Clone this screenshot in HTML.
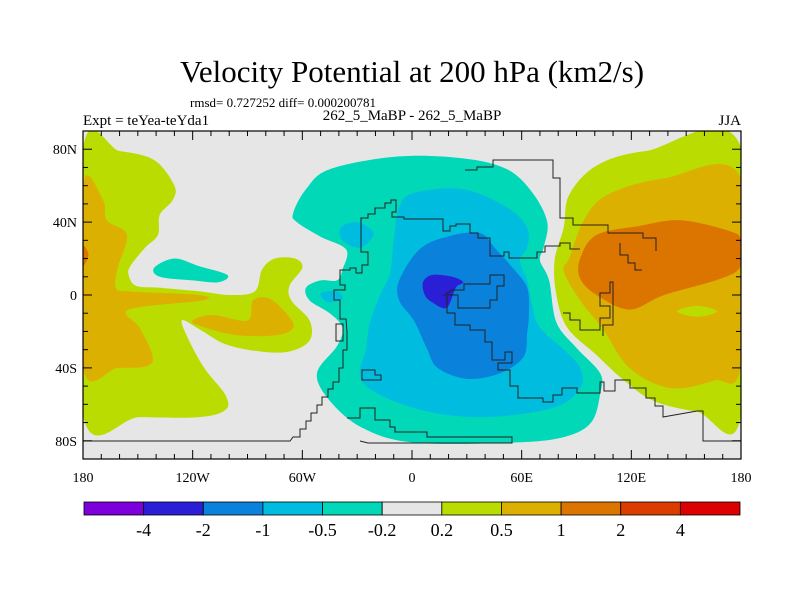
<!DOCTYPE html>
<html><head><meta charset="utf-8">
<style>
html,body{margin:0;padding:0;background:#fff;}
svg{display:block;font-family:"Liberation Serif",serif;}
</style></head>
<body>
<svg id="chart" width="800" height="600" viewBox="0 0 800 600" xmlns="http://www.w3.org/2000/svg">
<text x="412" y="82" text-anchor="middle" font-size="31">Velocity Potential at 200 hPa (km2/s)</text>
<text x="190" y="107" font-size="13">rmsd= 0.727252 diff= 0.000200781</text>
<text x="412" y="120" text-anchor="middle" font-size="15">262_5_MaBP - 262_5_MaBP</text>
<text x="83" y="125" font-size="15">Expt = teYea-teYda1</text>
<text x="741" y="125" text-anchor="end" font-size="15">JJA</text>
<g id="plot"></g>
<g id="cbar"></g>
</svg>
<script>
// colour levels
const levels = ["-4","-2","-1","-0.5","-0.2","0.2","0.5","1","2","4"];
const colors = ["#7d00dc","#2a1fd6","#0a82dc","#00bde0","#00d8b8","#e6e6e6","#badc00","#dcb000","#dc7400","#dc3c00","#dc0000"];
const latTicks = [80,40,0,-40,-80];
const latLabels = ["80N","40N","0","40S","80S"];
const lonTicks = [-180,-120,-60,0,60,120,180];
const lonLabels = ["180","120W","60W","0","60E","120E","180"];

// contour polygons [lon,lat] with colour index
const limeWest = [[-180,80],[-160,79],[-141,74],[-130,60],[-131,52],[-138,44],[-139,33],[-146,26],[-154,16],[-155,11],[-151,5],[-138,4],[-116,2],[-100,0],[-86,2],[-82,14],[-75,20],[-64,20],[-60,15],[-67,5],[-66,-3],[-56,-14],[-56,-25],[-67,-31],[-83,-31],[-102,-27],[-116,-19],[-126,-14],[-121,-27],[-113,-41],[-102,-55],[-102,-63],[-116,-67],[-149,-67],[-180,-66]];
const goldWest = [[-180,60],[-169,52],[-167,41],[-156,33],[-161,15],[-162,4],[-155,2],[-117,0],[-115,-3],[-155,-8],[-149,-18],[-142,-33],[-145,-39],[-161,-40],[-180,-40]];
const goldWest2 = [[-120,-14],[-109,-11],[-90,-14],[-87,-3],[-78,-2],[-68,-11],[-65,-18],[-74,-22],[-96,-22],[-116,-17]];
const orangeWest = [[-180,27],[-177,22],[-180,16]];
const tealWest = [[-141,15],[-130,20],[-117,16],[-101,11],[-106,7],[-120,8],[-138,10]];
const tealCentral = [[-65,45],[-58,58],[-45,69],[-8,76],[28,75],[52,69],[66,56],[74,40],[72,26],[70,19],[75,8],[79,-15],[90,-29],[103,-43],[103,-54],[98,-70],[83,-78],[55,-81],[1,-81],[-27,-73],[-45,-58],[-52,-43],[-41,-28],[-38,-18],[-45,-10],[-56,-3],[-58,4],[-50,8],[-41,8],[-38,14],[-36,25],[-50,32],[-63,40]];
const blueLight = [[1,56],[28,58],[52,48],[63,37],[63,26],[59,19],[63,8],[66,-7],[70,-18],[83,-30],[92,-40],[92,-51],[77,-62],[37,-67],[1,-62],[-27,-48],[-25,-29],[-23,-15],[-17,1],[-12,12],[-10,30],[-7,48]];
const blueLight2 = [[-39,37],[-30,40],[-21,34],[-28,26],[-38,30]];
const blueLight3 = [[-50,1],[-41,2],[-38,-2],[-46,-4]];
const blueMid = [[-7,8],[4,25],[19,32],[37,34],[46,25],[55,15],[63,4],[64,-10],[63,-21],[61,-34],[48,-43],[30,-46],[14,-40],[8,-29],[1,-14],[-7,-3]];
const blueDark = [[6,7],[11,11],[22,10],[28,7],[24,4],[19,-7],[11,-4],[7,0]];
const limeEast = [[86,55],[101,71],[128,79],[180,81],[180,-66],[156,-64],[132,-58],[115,-46],[101,-33],[85,-18],[79,0],[78,19],[83,37]];
const goldEast = [[86,20],[94,41],[107,55],[138,64],[180,64],[180,-38],[165,-47],[141,-51],[119,-40],[104,-18],[92,-3],[83,13]];
const orangeEast = [[92,20],[101,33],[125,38],[147,41],[174,35],[180,30],[180,16],[169,9],[138,0],[119,-8],[101,0],[92,9]];
const limeHole = [[145,-9],[156,-6],[167,-9],[156,-12]];
const contours = [
 [limeWest,6],[goldWest,7],[goldWest2,7],[orangeWest,8],[tealWest,4],
 [limeEast,6],[goldEast,7],[orangeEast,8],[limeHole,6],
 [tealCentral,4],[blueLight,3],[blueLight2,3],[blueLight3,3],[blueMid,2],[blueDark,1]
];

const NS="http://www.w3.org/2000/svg";
const X0=83,X1=741,Y0=131,Y1=459;
function xs(lon){return X0+(lon+180)/360*(X1-X0);}
function ys(lat){return Y0+(90-lat)/180*(Y1-Y0);}
function mk(tag,attrs,parent){const e=document.createElementNS(NS,tag);for(const k in attrs)e.setAttribute(k,attrs[k]);parent.appendChild(e);return e;}
function smooth(pts){
  const p=pts.map(d=>[xs(d[0]),ys(d[1])]);const n=p.length;let s=`M${p[0][0]},${p[0][1]}`;
  for(let i=0;i<n;i++){const a=p[(i-1+n)%n],b=p[i],c=p[(i+1)%n],d=p[(i+2)%n];
    s+=` C${b[0]+(c[0]-a[0])/6},${b[1]+(c[1]-a[1])/6} ${c[0]-(d[0]-b[0])/6},${c[1]-(d[1]-b[1])/6} ${c[0]},${c[1]}`;}
  return s+"Z";
}
const plot=document.getElementById('plot');
const defs=mk('defs',{},plot);
const cp=mk('clipPath',{id:'clip'},defs);mk('rect',{x:X0,y:Y0,width:X1-X0,height:Y1-Y0},cp);
const bg=mk('rect',{x:X0,y:Y0,width:X1-X0,height:Y1-Y0,fill:colors[5]},plot);


const cg=mk('g',{'clip-path':'url(#clip)'},plot);
contours.forEach((c,i)=>{
  const el=mk('path',{d:smooth(c[0]),fill:colors[c[1]]},cg);
  
  
});
// coastlines (rough)
const coasts=[
 "M83,441 L290,441 L293,437 L300,437 L300,429 L306,429 L306,421 L311,421 L311,413 L317,413 L317,405 L322,405 L322,397 L328,397 L328,389 L333,389 L333,382 L339,382 L339,368 L343,368 L343,350 L347,350 L347,332 L346,319 L340,319 L340,300 L334,300 L334,290 L345,290 L345,285 L340,285 L340,270 L350,270 L350,268 L356,268 L356,273 L362,273 L362,265 L368,265 L368,252 L361,252 L361,218 L368,218 L368,214 L375,214 L375,208 L385,208 L385,203 L391,203 L391,200 L396,200 L396,212 L392,212 L392,217 L404,217 L404,219 L443,219 L443,231 L450,231 L450,226 L456,226 L456,224 L470,224 L470,233 L478,233 L478,238 L490,238 L490,256 L504,256 L504,252 L509,252 L509,258 L537,258 L537,252 L545,252 L545,246 L560,246 L560,243 L570,243 L570,249 L580,249",
 "M443,296 L452,290 L464,290 L464,284 L490,284 L490,275 L504,275 L504,286 L497,286 L497,300 L490,300 L490,308 L458,308 L458,295 L447,295 L447,313 L455,313 L455,325 L470,325 L470,330 L485,330 L485,342 L492,342 L492,360 L505,360 L505,352 L512,352 L512,363 L498,363 L498,370 L510,370 L510,386 L518,386 L518,398 L543,398 L543,402 L553,402 L553,395 L562,395 L562,388 L577,388 L577,393 L600,393 L600,382 L604,382 L604,391 L615,391 L615,380 L630,380 L630,388 L646,388 L646,398 L655,398 L655,406 L663,406 L663,417 L697,411 L703,411 L703,441 L741,441",
 "M465,170 L477,170 L477,167 L493,167 L493,160 L553,160 L553,178 L560,178 L560,218 L573,218 L573,225 L608,225 L608,233 L643,233 L643,238 L656,238 L656,251",
 "M563,313 L570,313 L570,320 L580,320 L580,330 L600,330 L600,318 L610,318 L610,306 L600,306 L600,293 L610,293 L610,282 L613,282 L613,325 L603,325 L603,336",
 "M620,243 L620,255 L628,255 L628,263 L635,263 L635,270 L642,270",
 "M362,370 L375,370 L375,375 L381,375 L381,380 L362,380 Z",
 "M336,324 L343,324 L343,341 L336,341 Z",
 "M360,441 L368,443 L512,443 L512,437 L427,437 L427,432 L395,432 L395,427 L390,427 L390,420 L375,420 L375,408 L360,408 L360,418 L347,418"
];
coasts.forEach((d,i)=>{
  const el=mk('path',{d:d,fill:'none',stroke:'#222','stroke-width':1},cg);
  
  
});
const frame=mk('rect',{x:X0,y:Y0,width:X1-X0,height:Y1-Y0,fill:'none',stroke:'#000','stroke-width':1.2},plot);


// ticks
for(let lon=-180;lon<=180;lon+=10){const x=xs(lon);const L=(lon%60===0)?9:5;
  mk('line',{x1:x,y1:Y0,x2:x,y2:Y0+L,stroke:'#000'},plot);mk('line',{x1:x,y1:Y1,x2:x,y2:Y1-L,stroke:'#000'},plot);}
for(let lat=-90;lat<=90;lat+=10){const y=ys(lat);const L=(lat%40===0)?9:5;
  mk('line',{x1:X0,y1:y,x2:X0+L,y2:y,stroke:'#000'},plot);mk('line',{x1:X1,y1:y,x2:X1-L,y2:y,stroke:'#000'},plot);}
latTicks.forEach((v,i)=>{const t=mk('text',{x:77,y:ys(v)+5,'text-anchor':'end','font-size':14},plot);t.textContent=latLabels[i];
  
  });
lonTicks.forEach((v,i)=>{const t=mk('text',{x:xs(v),y:482,'text-anchor':'middle','font-size':14},plot);t.textContent=lonLabels[i];
  
  });
// colorbar
const cb=document.getElementById('cbar');const CX0=84,CX1=740,CW=(CX1-CX0)/colors.length;
colors.forEach((c,i)=>{const r=mk('rect',{x:CX0+i*CW,y:502,width:CW,height:13,fill:c,stroke:'#000','stroke-width':0.8},cb);
  
  });
levels.forEach((l,i)=>{const t=mk('text',{x:CX0+(i+1)*CW,y:536,'text-anchor':'middle','font-size':18},cb);t.textContent=l;
  
  });
</script>
</body></html>
